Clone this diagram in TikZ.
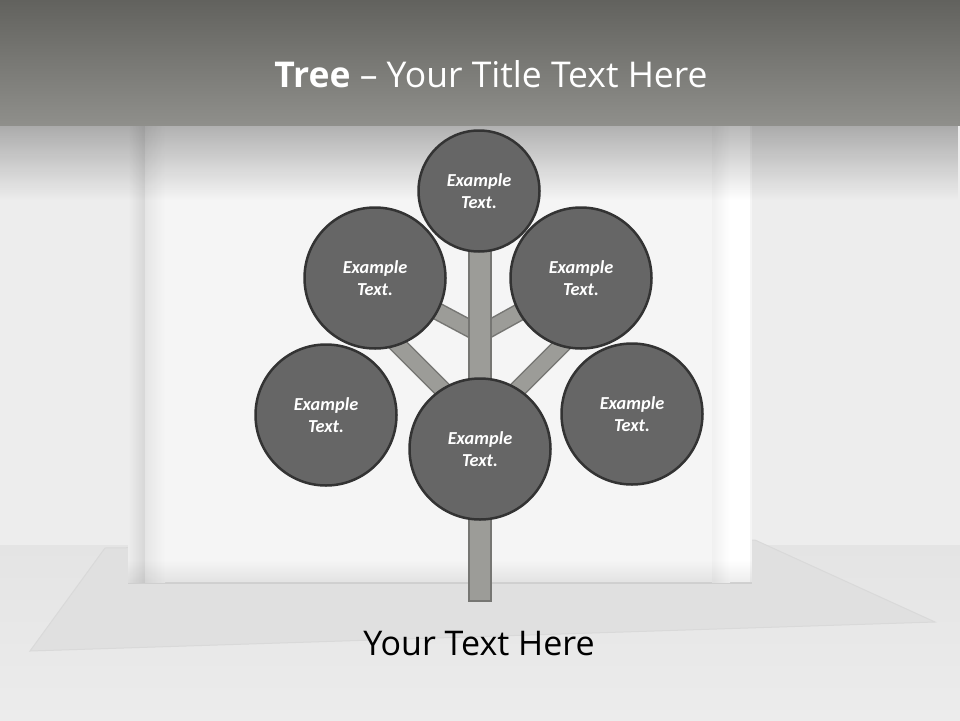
\documentclass[tikz,border=0pt]{standalone}
\usepackage{fontspec}
\setmainfont{Open Sans}
\newfontfamily\leaffont{Carlito}
\usetikzlibrary{fadings}

\definecolor{barfill}{HTML}{62625E}
\definecolor{barfoot}{HTML}{8F8F8B}
\definecolor{wallgray}{HTML}{EDEDED}
\definecolor{panelgray}{HTML}{F5F5F5}
\definecolor{floortop}{HTML}{E4E4E4}
\definecolor{floorgray}{HTML}{ECECEC}
\definecolor{carpetgray}{HTML}{E0E0E0}
\definecolor{leaffill}{HTML}{666666}
\definecolor{leafline}{HTML}{333333}
\definecolor{barkfill}{HTML}{9C9C98}
\definecolor{barkline}{HTML}{767673}

\pgfdeclarelayer{scenery}
\pgfdeclarelayer{wood}
\pgfsetlayers{scenery,wood,main}

\tikzset{
  leaf/.style={circle, draw=leafline, line width=2.5pt, fill=leaffill,
    minimum size=#1, inner sep=0pt, text=white, align=center,
    font=\leaffont\bfseries\itshape\fontsize{18.3}{22.5}\selectfont},
  leaf/.default=141pt,
  branch/.style={draw=barkline, line width=1.5pt, double=barkfill,
    double distance=15pt},
  trunkbox/.style={draw=barkline, line width=1.5pt, fill=barkfill,
    minimum width=22pt, minimum height=351pt, inner sep=0pt}
}

\begin{document}
\begin{tikzpicture}[x=1pt,y=-1pt]
\useasboundingbox (0,0) rectangle (960,720);

% the leaves
\node[leaf=121pt] (top) at (479,191) {Example\\Text.};
\node[leaf] (ul) at (375,278) {Example\\Text.};
\node[leaf] (ur) at (581,278) {Example\\Text.};
\node[leaf] (ll) at (326,415) {Example\\Text.};
\node[leaf] (lr) at (632,414) {Example\\Text.};
\node[leaf] (mid) at (480,449) {Example\\Text.};

% trunk and branches
\begin{pgfonlayer}{wood}
  \coordinate (fork1) at (480,334);
  \coordinate (fork2) at (480,427);
  \coordinate (twigL) at (385,332);
  \coordinate (twigR) at (575,332);
  \draw[branch] (fork1) -- (ul.center);
  \draw[branch] (fork1) -- (ur.center);
  \draw[branch] (fork2) -- (twigL);
  \draw[branch] (fork2) -- (twigR);
  \node[trunkbox] (trunk) at (480,425.5) {};
\end{pgfonlayer}

% room and title bar
\begin{pgfonlayer}{scenery}
  \fill[floorgray] (0,0) rectangle (960,720);
  \fill[wallgray] (0,125) rectangle (960,545);
  \fill[top color=floortop, bottom color=floorgray] (0,545) rectangle (960,720);
  \filldraw[fill=carpetgray, draw=black!15, line width=1pt]
    (30,651) -- (105,548) -- (755,540) -- (935,622) -- cycle;
  \fill[panelgray] (148,125) rectangle (752,582);
  \fill[left color=wallgray, right color=black!16] (128,125) rectangle (145,582);
  \fill[left color=black!10, right color=panelgray] (145,125) rectangle (165,582);
  \fill[left color=black!6, right color=white] (712,125) rectangle (730,582);
  \fill[white] (730,125) rectangle (750,582);
  \fill[black, opacity=0.28, path fading=south] (0,125) rectangle (960,200);
  \fill[black, opacity=0.08, path fading=north] (128,560) rectangle (752,584);
  \fill[top color=barfill, bottom color=barfoot] (0,0) rectangle (960,125);
\end{pgfonlayer}

% texts
\node[anchor=base, text=white, font=\fontsize{35.5}{40}\selectfont] (title)
  at (491,87) {\textbf{Tree} – Your Title Text Here};
\node[anchor=base, text=black, font=\fontsize{34}{40}\selectfont] (caption)
  at (479,655) {Your Text Here};
\end{tikzpicture}
\end{document}
